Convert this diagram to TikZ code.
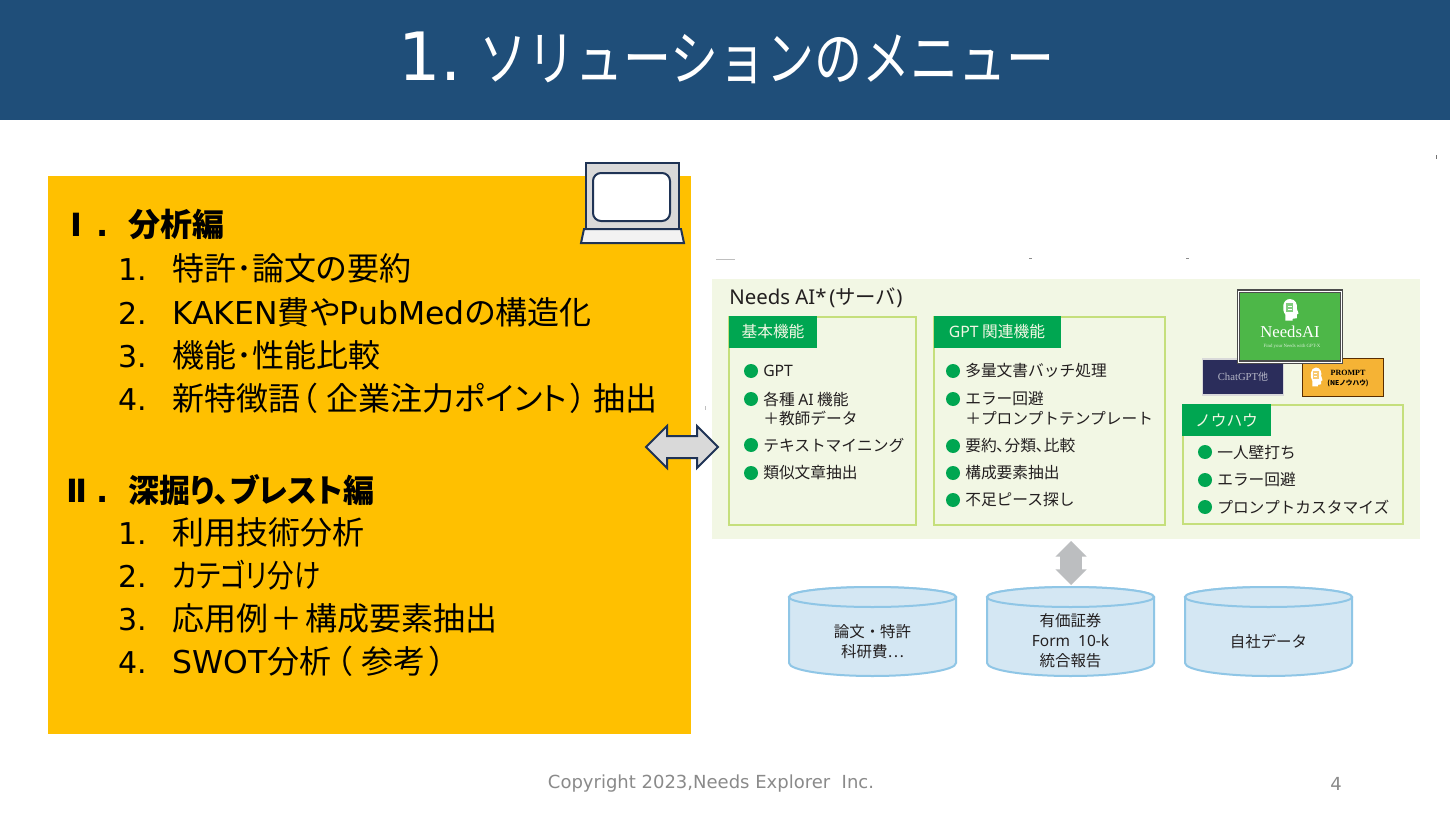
\documentclass[tikz,border=0pt]{standalone}
\usepackage{fontspec}
\setmainfont{Noto Sans CJK JP}
\newfontfamily\latfont{DejaVu Sans}
\newfontfamily\sansfont{Noto Sans}
\newfontfamily\logofont{Liberation Serif}
\newfontfamily\condfont[FakeStretch=0.8]{Noto Sans CJK JP}
\newfontfamily\paltfont[RawFeature=+palt]{Noto Sans CJK JP}
\usetikzlibrary{shapes.arrows}
\definecolor{band}{HTML}{1F4E79}
\definecolor{amber}{HTML}{FFC000}
\definecolor{navy}{HTML}{1F3355}
\definecolor{pale}{HTML}{F2F7E4}
\definecolor{lime}{HTML}{C5DF7C}
\definecolor{leaf}{HTML}{00A651}
\definecolor{ink}{HTML}{231F20}
\definecolor{dbfill}{HTML}{D4E7F3}
\definecolor{dbline}{HTML}{8FC6E6}
\definecolor{logogreen}{HTML}{4DB748}
\definecolor{chatblue}{HTML}{2B2D5B}
\definecolor{promptorange}{HTML}{F5B335}
\definecolor{arrowgray}{HTML}{BCBEC0}
\def\pxu{0.75pt}
\tikzset{
  x=0.75pt,y=-0.75pt,
  lefthead/.style={anchor=west,inner sep=0pt,text=black,font=\fontsize{24}{28}\selectfont\bfseries},
  leftitem/.style={anchor=west,inner sep=0pt,text=black,font=\paltfont\fontsize{24}{28}\selectfont},
  limebox/.style={draw=lime,line width=1.5pt,fill=pale},
  hdr/.style={fill=leaf,text=pale,inner sep=0pt,minimum height=32*\pxu,font=\fontsize{11.8}{14}\selectfont},
  dot/.style={circle,fill=leaf,inner sep=0pt,minimum size=14*\pxu},
  rowtext/.style={anchor=west,inner sep=0pt,text=ink,font=\fontsize{11.8}{14}\selectfont},
  dbtext/.style={align=center,inner sep=0pt,text=ink,font=\fontsize{11.6}{15}\selectfont},
  dbshape/.style={draw=dbline,fill=dbfill,line width=1.5pt},
  foot/.style={inner sep=0pt,text=black!46,font=\latfont\fontsize{13.5}{15}\selectfont},
  bigarrow/.style={double arrow,double arrow head extend=7.5pt,double arrow head indent=0pt,inner sep=7.5pt,minimum height=54pt},
  headpic/.pic={
    \fill[white] (-5.5,8) -- (-5.5,3) .. controls (-10,-1) and (-9,-10) .. (0,-10)
       .. controls (7,-10) and (9,-5) .. (8,-2) -- (10,2) -- (8,3) -- (8,6) -- (3,6.5) -- (3,8) -- cycle;
    \fill[#1!70!white] (-4.5,-6.5) rectangle (4,1);
    \draw[white,line width=.5pt] (-2.5,-4) -- (2,-4) (-2.5,-1.5) -- (2,-1.5);
  },
  headpic/.default=logogreen
}
\newcommand{\rowdot}[4]{\node[dot] (d#1) at (#2,#3) {}; \node[rowtext] (t#1) at (#2+12,#3) {#4};}
\newcommand{\dbcyl}[1]{%
  \path[dbshape] (#1,597) -- (#1,663) arc[start angle=180,end angle=0,x radius=83.5,y radius=13] -- (#1+167,597)
     arc[start angle=0,end angle=-180,x radius=83.5,y radius=10] -- cycle;
  \path[dbshape] (#1+83.5,597) ellipse[x radius=83.5,y radius=10];}
\newcommand{\numbox}[1]{\makebox[40.5pt][l]{\latfont\fontsize{22.5}{27}\selectfont #1}}
\newcommand{\latword}[1]{{\latfont\fontsize{23.6}{27}\selectfont #1}}
\begin{document}
\begin{tikzpicture}
\useasboundingbox (0,0) rectangle (1450,817);
\fill[white] (0,0) rectangle (1450,817);
\fill[band] (0,0) rectangle (1450,120);
\node[anchor=west,inner sep=0pt,text=white,font=\condfont\fontsize{45}{50}\selectfont] (title) at (398,58) {{\latfont\fontsize{50}{50}\selectfont 1.}\hspace{13pt}ソリューションのメニュー};

% left panel
\fill[amber] (48,176) rectangle (691,734);
\node[lefthead] (h1) at (70,224) {\makebox[19.5pt][l]{\latfont\bfseries Ⅰ}{\latfont\bfseries .}\hspace{15pt}分析編};
\node[leftitem] (a1) at (118,268) {\numbox{1.}特許･論文の要約};
\node[leftitem] (a2) at (118,312) {\numbox{2.}\latword{KAKEN}費や\latword{PubMed}の構造化};
\node[leftitem] (a3) at (118,355) {\numbox{3.}機能･性能比較};
\node[leftitem] (a4) at (118,398) {\numbox{4.}新特徴語\hspace{1pt}（\hspace{7pt}企業注力ポイント\hspace{3pt}）\hspace{5pt}抽出};
\node[lefthead] (h2) at (66,490) {\makebox[22.5pt][l]{\latfont\bfseries Ⅱ}{\latfont\bfseries .}\hspace{15pt}\scalebox{0.97}[1]{\paltfont\bfseries 深掘り､ブレスト編}};
\node[leftitem] (b1) at (118,532) {\numbox{1.}利用技術分析};
\node[leftitem] (b2) at (118,575) {\numbox{2.}\scalebox{0.83}[1]{カテゴリ分け}};
\node[leftitem] (b3) at (118,618) {\numbox{3.}応用例\hspace{2pt}＋\hspace{2pt}構成要素抽出};
\node[leftitem] (b4) at (118,661) {\numbox{4.}\latword{SWOT}分析\hspace{4pt}（\hspace{7pt}参考\hspace{3pt}）\hspace{3pt}};

% laptop
\draw[navy,line width=1.5pt,fill=black!15] (586,163) rectangle (679,229);
\draw[navy,line width=1.5pt,fill=white,rounded corners=6pt] (593,173) rectangle (670,221);
\draw[navy,line width=1.5pt,fill=black!5] (584,229) -- (681,229) -- (684,243) -- (581,243) -- cycle;

% right panel
\fill[pale] (712,279) rectangle (1420,539);
\node[anchor=west,inner sep=0pt,text=ink,font=\fontsize{15.3}{18}\selectfont] (server) at (729,298) {{\sansfont\fontsize{15.3}{18}\selectfont Needs AI*}\hspace{2pt}{\sansfont(}サーバ{\sansfont)}};

% double arrow
\node[bigarrow,draw=navy,line width=1.5pt,fill=black!15,line join=miter] (link) at (682,447) {};

\path[limebox] (729,317) rectangle (916,525);
\node[hdr,minimum width=88*\pxu] (hbase) at (773,332) {基本機能};
\rowdot{a}{751}{371}{{\sansfont GPT}}
\rowdot{b}{751}{399}{各種 {\sansfont AI} 機能}
\node[rowtext] (tb2) at (763,418) {＋教師データ};
\rowdot{c}{751}{445}{テキストマイニング}
\rowdot{e}{751}{473}{類似文章抽出}

\path[limebox] (934,317) rectangle (1165,525);
\node[hdr,minimum width=127*\pxu] (hgpt) at (997,332) {{\sansfont GPT} 関連機能};
\rowdot{f}{953}{371}{多量文書バッチ処理}
\rowdot{g}{953}{399}{エラー回避}
\node[rowtext] (tg2) at (965,418) {＋プロンプトテンプレート};
\rowdot{h}{953}{446}{要約､分類､比較}
\rowdot{i}{953}{473}{構成要素抽出}
\rowdot{j}{953}{500}{不足ピース探し}

\path[limebox] (1183,405) rectangle (1403,524);
\node[hdr,minimum width=89*\pxu] (hknow) at (1226.5,420) {ノウハウ};
\rowdot{k}{1205}{452}{一人壁打ち}
\rowdot{l}{1205}{480}{エラー回避}
\rowdot{m}{1205}{507}{プロンプトカスタマイズ}

% product cards
\node[draw=black!15,line width=.8pt,fill=chatblue,minimum width=81*\pxu,minimum height=36*\pxu,inner sep=0pt,text=chatblue!35!white,font=\logofont\fontsize{8}{9}\selectfont] (chat) at (1243,377) {ChatGPT{\rmfamily\fontsize{7.5}{9}\selectfont 他}};
\node[draw=black!65!orange,line width=1.2pt,fill=promptorange,minimum width=81*\pxu,minimum height=38*\pxu,inner sep=0pt] (prompt) at (1343,377.5) {};
\pic[xscale=.65,yscale=1.05] at (1316,378) {headpic=promptorange};
\node[inner sep=0pt,text=black,font=\logofont\bfseries\fontsize{6}{7}\selectfont] (promptt) at (1348,373) {PROMPT};
\node[inner sep=0pt,text=black,font=\bfseries\fontsize{5}{7}\selectfont] (promptk) at (1348,383) {(NEノウハウ)};
\node[draw=black!70,line width=1pt,fill=logogreen,minimum width=103*\pxu,minimum height=71*\pxu,inner sep=0pt,double=white,double distance=.6pt] (needs) at (1290,326.5) {};
\pic[xscale=.85,yscale=1.2] at (1290,311) {headpic=logogreen};
\node[inner sep=0pt,text=white,font=\logofont\fontsize{12.5}{16}\selectfont] (needst) at (1290,332) {NeedsAI};
\node[inner sep=0pt,text=white!80!logogreen,font=\logofont\fontsize{3.6}{5}\selectfont] (needss) at (1292,346) {Find your Needs with GPT-X};

% vertical arrow
\node[double arrow,rotate=90,fill=arrowgray,double arrow head extend=3.5pt,double arrow head indent=0pt,inner sep=8pt,minimum height=33pt] (vlink) at (1071,563) {};

% databases
\dbcyl{789}
\dbcyl{987}
\dbcyl{1185}
\node[dbtext] (db1) at (872.5,642) {論文・特許\\科研費…};
\node[dbtext] (db2) at (1070.5,641) {有価証券\\{\sansfont Form\ \ 10-k}\\統合報告};
\node[dbtext] (db3) at (1268.5,642) {自社データ};

% stray marks
\fill[black!55] (1436,155) rectangle (1437,159);
\fill[black!25] (716,259) rectangle (735,260);
\fill[black!45] (1029,258) rectangle (1032,259);
\fill[black!45] (1186,258) rectangle (1189,259);
\fill[black!25] (705,406) rectangle (706,410);

% footer
\node[foot] (copy) at (711,784) {Copyright 2023,Needs Explorer\ \ Inc.};
\node[foot] (page) at (1336,784) {4};
\end{tikzpicture}
\end{document}
